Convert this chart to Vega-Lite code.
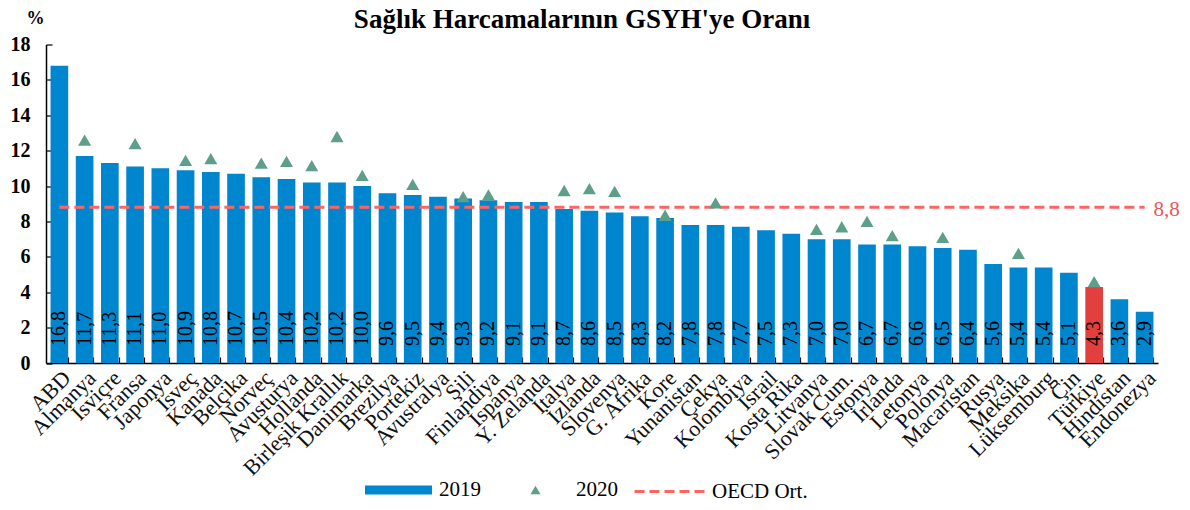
{
  "$schema": "https://vega.github.io/schema/vega-lite/v6.json",
  "width": 1112,
  "height": 318.5,
  "autosize": {"type": "none"},
  "padding": {"left": 46, "top": 44.5, "right": 32, "bottom": 147},
  "background": "white",
  "title": {
    "text": "Sağlık Harcamalarının GSYH'ye Oranı",
    "font": "Liberation Serif",
    "fontSize": 27,
    "fontWeight": "bold",
    "color": "black",
    "anchor": "middle",
    "frame": "group",
    "dx": -20,
    "baseline": "alphabetic",
    "offset": -45
  },
  "config": {
    "view": {"stroke": null},
    "font": "Liberation Serif",
    "locale": {"number": {"decimal": ",", "thousands": ".", "grouping": [3], "currency": ["", ""]}},
    "legend": {"labelFont": "Liberation Serif", "labelFontSize": 21, "labelColor": "black", "padding": 0}
  },
  "resolve": {"axis": {"x": "independent", "y": "independent"}},
  "data": {
    "values": [
      {"country": "ABD", "v2019": 16.8, "v2020": null, "oecd": 8.8},
      {"country": "Almanya", "v2019": 11.7, "v2020": 12.6, "oecd": 8.8},
      {"country": "İsviçre", "v2019": 11.3, "v2020": null, "oecd": 8.8},
      {"country": "Fransa", "v2019": 11.1, "v2020": 12.4, "oecd": 8.8},
      {"country": "Japonya", "v2019": 11.0, "v2020": null, "oecd": 8.8},
      {"country": "İsveç", "v2019": 10.9, "v2020": 11.45, "oecd": 8.8},
      {"country": "Kanada", "v2019": 10.8, "v2020": 11.55, "oecd": 8.8},
      {"country": "Belçika", "v2019": 10.7, "v2020": null, "oecd": 8.8},
      {"country": "Norveç", "v2019": 10.5, "v2020": 11.3, "oecd": 8.8},
      {"country": "Avusturya", "v2019": 10.4, "v2020": 11.4, "oecd": 8.8},
      {"country": "Hollanda", "v2019": 10.2, "v2020": 11.15, "oecd": 8.8},
      {"country": "Birleşik Krallık", "v2019": 10.2, "v2020": 12.8, "oecd": 8.8},
      {"country": "Danimarka", "v2019": 10.0, "v2020": 10.6, "oecd": 8.8},
      {"country": "Brezilya", "v2019": 9.6, "v2020": null, "oecd": 8.8},
      {"country": "Portekiz", "v2019": 9.5, "v2020": 10.1, "oecd": 8.8},
      {"country": "Avustralya", "v2019": 9.4, "v2020": null, "oecd": 8.8},
      {"country": "Şili", "v2019": 9.3, "v2020": 9.4, "oecd": 8.8},
      {"country": "Finlandiya", "v2019": 9.2, "v2020": 9.5, "oecd": 8.8},
      {"country": "İspanya", "v2019": 9.1, "v2020": null, "oecd": 8.8},
      {"country": "Y. Zelanda", "v2019": 9.1, "v2020": null, "oecd": 8.8},
      {"country": "İtalya", "v2019": 8.7, "v2020": 9.75, "oecd": 8.8},
      {"country": "İzlanda", "v2019": 8.6, "v2020": 9.85, "oecd": 8.8},
      {"country": "Slovenya", "v2019": 8.5, "v2020": 9.7, "oecd": 8.8},
      {"country": "G. Afrika", "v2019": 8.3, "v2020": null, "oecd": 8.8},
      {"country": "Kore", "v2019": 8.2, "v2020": 8.35, "oecd": 8.8},
      {"country": "Yunanistan", "v2019": 7.8, "v2020": null, "oecd": 8.8},
      {"country": "Çekya", "v2019": 7.8, "v2020": 9.05, "oecd": 8.8},
      {"country": "Kolombiya", "v2019": 7.7, "v2020": null, "oecd": 8.8},
      {"country": "İsrail", "v2019": 7.5, "v2020": null, "oecd": 8.8},
      {"country": "Kosta Rika", "v2019": 7.3, "v2020": null, "oecd": 8.8},
      {"country": "Litvanya", "v2019": 7.0, "v2020": 7.55, "oecd": 8.8},
      {"country": "Slovak Cum.", "v2019": 7.0, "v2020": 7.7, "oecd": 8.8},
      {"country": "Estonya", "v2019": 6.7, "v2020": 8.0, "oecd": 8.8},
      {"country": "İrlanda", "v2019": 6.7, "v2020": 7.2, "oecd": 8.8},
      {"country": "Letonya", "v2019": 6.6, "v2020": null, "oecd": 8.8},
      {"country": "Polonya", "v2019": 6.5, "v2020": 7.1, "oecd": 8.8},
      {"country": "Macaristan", "v2019": 6.4, "v2020": null, "oecd": 8.8},
      {"country": "Rusya", "v2019": 5.6, "v2020": null, "oecd": 8.8},
      {"country": "Meksika", "v2019": 5.4, "v2020": 6.2, "oecd": 8.8},
      {"country": "Lüksemburg", "v2019": 5.4, "v2020": null, "oecd": 8.8},
      {"country": "Çin", "v2019": 5.1, "v2020": null, "oecd": 8.8},
      {"country": "Türkiye", "v2019": 4.3, "v2020": 4.6, "oecd": 8.8},
      {"country": "Hindistan", "v2019": 3.6, "v2020": null, "oecd": 8.8},
      {"country": "Endonezya", "v2019": 2.9, "v2020": null, "oecd": 8.8}
    ]
  },
  "layer": [
    {
      "mark": {"type": "bar"},
      "encoding": {
        "x": {
          "field": "country",
          "type": "nominal",
          "sort": null,
          "title": null,
          "scale": {"paddingInner": 0.3, "paddingOuter": 0.18},
          "axis": {
            "labelAngle": -45,
            "labelAlign": "right",
            "labelFont": "Liberation Serif",
            "labelFontSize": 22,
            "labelColor": "#111111",
            "labelPadding": 10,
            "labelOverlap": false,
            "domainColor": "black",
            "domainWidth": 1.5,
            "tickColor": "black",
            "tickWidth": 1.2,
            "tickSize": -6,
            "tickBand": "extent",
            "grid": false
          }
        },
        "y": {
          "field": "v2019",
          "type": "quantitative",
          "title": "%",
          "scale": {"domain": [0, 18], "nice": false},
          "axis": {
            "values": [0, 2, 4, 6, 8, 10, 12, 14, 16, 18],
            "labelOverlap": false,
            "grid": false,
            "labelFont": "Liberation Serif",
            "labelFontSize": 20,
            "labelFontWeight": "bold",
            "labelColor": "black",
            "labelAlign": "right",
            "labelPadding": 22,
            "domainColor": "black",
            "domainWidth": 1.5,
            "tickColor": "black",
            "tickWidth": 1.2,
            "tickSize": -6,
            "titleAngle": 0,
            "titleX": -20,
            "titleY": -21,
            "titleAlign": "left",
            "titleBaseline": "alphabetic",
            "titleFont": "Liberation Serif",
            "titleFontSize": 18,
            "titleFontWeight": "bold",
            "titleColor": "black"
          }
        },
        "fill": {
          "condition": {"test": "datum.country === 'Türkiye'", "value": "#E2403F"},
          "datum": "2019",
          "scale": {"range": ["#0086CE"]},
          "legend": {
            "orient": "none",
            "legendX": 319,
            "legendY": 412,
            "title": null,
            "symbolType": "M-1,-0.134H1V0.134H-1Z",
            "symbolSize": 4489,
            "symbolStrokeWidth": 0,
            "labelOffset": 7
          }
        }
      }
    },
    {
      "mark": {"type": "text", "angle": 270, "align": "left", "baseline": "middle", "dx": 17, "fontSize": 20, "font": "Liberation Serif", "color": "black"},
      "encoding": {
        "x": {"field": "country", "type": "nominal", "sort": null, "axis": null},
        "y": {"datum": 0, "type": "quantitative", "axis": null},
        "text": {"field": "v2019", "type": "quantitative", "format": ".1f"}
      }
    },
    {
      "mark": {"type": "line", "strokeWidth": 3, "color": "#FF6464"},
      "encoding": {
        "x": {"field": "country", "type": "nominal", "sort": null, "axis": null},
        "y": {"field": "oecd", "type": "quantitative", "axis": null},
        "strokeDash": {
          "datum": "OECD Ort.",
          "scale": {"range": [[10, 5]]},
          "legend": {
            "orient": "none",
            "legendX": 587,
            "legendY": 409.5,
            "title": null,
            "symbolType": "stroke",
            "symbolSize": 5184,
            "symbolStrokeWidth": 3,
            "symbolStrokeColor": "#FF6464",
            "labelOffset": 4
          }
        }
      }
    },
    {
      "transform": [{"filter": "datum.v2020 != null"}],
      "mark": {"type": "point", "filled": true, "opacity": 1, "size": 170, "color": "#5E9F8A"},
      "encoding": {
        "x": {"field": "country", "type": "nominal", "sort": null, "axis": null},
        "y": {"field": "v2020", "type": "quantitative", "axis": null},
        "shape": {
          "datum": "2020",
          "scale": {"range": ["triangle-up"]},
          "legend": {
            "orient": "none",
            "legendX": 479,
            "legendY": 435,
            "title": null,
            "symbolSize": 100,
            "symbolFillColor": "#5E9F8A",
            "symbolStrokeWidth": 0,
            "labelOffset": 30
          }
        }
      }
    },
    {
      "transform": [{"filter": "datum.country === 'Endonezya'"}],
      "mark": {"type": "text", "align": "left", "baseline": "middle", "dx": 9, "dy": 3, "fontSize": 21, "font": "Liberation Serif", "color": "#E8585A"},
      "encoding": {
        "x": {"field": "country", "type": "nominal", "sort": null, "axis": null},
        "y": {"field": "oecd", "type": "quantitative", "axis": null},
        "text": {"field": "oecd", "type": "quantitative", "format": ".1f"}
      }
    }
  ]
}
